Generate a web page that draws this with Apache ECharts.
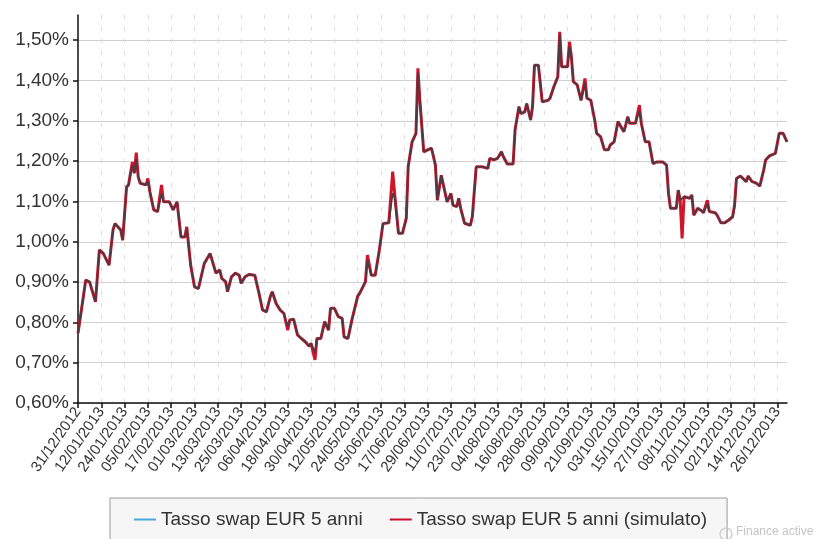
<!DOCTYPE html>
<html>
<head>
<meta charset="utf-8">
<script src="https://cdn.jsdelivr.net/npm/echarts@6/dist/echarts.min.js"></script>
<style>
html,body{margin:0;padding:0;background:#fff;}
#c{width:817px;height:539px;}
</style>
</head>
<body>
<div id="c"></div>
<script>
// day offsets from 31/12/2012
const days = [0,4,6,9,11,13,16,18,19,22,23,25,26,28,29,30,31,32,35,36,37,39,41,43,44,47,49,51,53,55,56,58,60,62,65,68,69,71,73,74,76,77,79,81,83,84,86,88,91,93,95,97,99,100,102,104,106,108,109,111,113,115,117,119,120,122,123,125,127,129,130,132,134,136,137,139,141,144,145,148,149,151,153,155,156,157,160,162,163,165,167,169,170,172,174,175,176,178,180,182,184,185,187,188,190,192,193,195,196,197,199,202,203,205,206,208,211,212,214,216,218,219,221,224,225,227,228,230,231,233,234,235,237,239,242,243,245,247,248,249,252,253,254,255,257,259,261,262,264,266,267,269,271,273,274,276,278,279,281,282,283,284,287,289,290,292,294,296,298,301,303,304,305,308,309,310,311,312,315,316,317,319,321,322,324,325,328,329,331,333,335,337,338,339,341,344,345,347,349,351,353,354,356,359,360,361,363,365];

// Tasso swap EUR 5 anni (simulato), %
const simulated = [0.773,0.905,0.900,0.851,0.980,0.971,0.942,1.029,1.045,1.029,1.004,1.136,1.141,1.198,1.170,1.221,1.161,1.145,1.141,1.157,1.124,1.079,1.075,1.141,1.099,1.099,1.079,1.099,1.012,1.012,1.037,0.942,0.888,0.884,0.946,0.971,0.967,0.922,0.930,0.909,0.901,0.876,0.913,0.922,0.917,0.897,0.913,0.919,0.917,0.876,0.831,0.826,0.864,0.876,0.847,0.831,0.822,0.781,0.806,0.808,0.769,0.760,0.752,0.741,0.748,0.707,0.760,0.760,0.802,0.781,0.835,0.835,0.814,0.810,0.764,0.760,0.806,0.865,0.872,0.901,0.967,0.917,0.917,0.975,0.979,1.045,1.047,1.174,1.120,1.021,1.021,1.058,1.187,1.248,1.269,1.430,1.351,1.223,1.228,1.232,1.190,1.103,1.165,1.161,1.099,1.120,1.091,1.087,1.108,1.083,1.046,1.041,1.062,1.186,1.190,1.186,1.182,1.207,1.203,1.207,1.223,1.211,1.193,1.193,1.277,1.335,1.318,1.322,1.343,1.302,1.335,1.438,1.438,1.347,1.351,1.356,1.385,1.409,1.521,1.434,1.434,1.496,1.459,1.397,1.389,1.351,1.405,1.356,1.351,1.302,1.269,1.261,1.228,1.228,1.240,1.248,1.298,1.294,1.273,1.290,1.310,1.294,1.294,1.339,1.294,1.248,1.248,1.194,1.198,1.198,1.190,1.120,1.083,1.083,1.128,1.103,1.008,1.112,1.108,1.116,1.066,1.083,1.077,1.072,1.103,1.075,1.072,1.066,1.047,1.047,1.054,1.062,1.091,1.157,1.163,1.149,1.163,1.149,1.146,1.138,1.178,1.203,1.213,1.219,1.221,1.269,1.269,1.248];

// Tasso swap EUR 5 anni, %
const actual = [0.773,0.905,0.900,0.851,0.980,0.971,0.942,1.029,1.045,1.029,1.004,1.136,1.141,1.190,1.170,1.205,1.161,1.145,1.141,1.150,1.124,1.079,1.075,1.120,1.099,1.099,1.079,1.099,1.012,1.012,1.030,0.942,0.888,0.884,0.946,0.971,0.967,0.922,0.930,0.909,0.901,0.876,0.913,0.922,0.917,0.897,0.913,0.919,0.917,0.876,0.831,0.826,0.864,0.876,0.847,0.831,0.822,0.790,0.806,0.808,0.769,0.760,0.752,0.741,0.748,0.725,0.760,0.760,0.802,0.781,0.835,0.835,0.814,0.810,0.764,0.760,0.806,0.865,0.872,0.901,0.955,0.917,0.917,0.975,0.979,1.045,1.047,1.120,1.110,1.021,1.021,1.058,1.187,1.248,1.269,1.420,1.351,1.223,1.228,1.232,1.190,1.103,1.165,1.161,1.099,1.120,1.091,1.087,1.108,1.083,1.046,1.041,1.062,1.186,1.190,1.186,1.182,1.207,1.203,1.207,1.223,1.211,1.193,1.193,1.277,1.335,1.318,1.322,1.343,1.302,1.335,1.438,1.438,1.347,1.351,1.356,1.385,1.409,1.515,1.434,1.434,1.485,1.459,1.397,1.389,1.351,1.395,1.356,1.351,1.302,1.269,1.261,1.228,1.228,1.240,1.248,1.298,1.294,1.273,1.290,1.310,1.294,1.294,1.325,1.294,1.248,1.248,1.194,1.198,1.198,1.190,1.120,1.083,1.083,1.128,1.103,1.100,1.112,1.108,1.116,1.066,1.083,1.077,1.072,1.095,1.075,1.072,1.066,1.047,1.047,1.054,1.062,1.085,1.157,1.163,1.149,1.163,1.149,1.146,1.138,1.178,1.203,1.213,1.219,1.221,1.269,1.269,1.248];

const xTickLabels = ['31/12/2012','12/01/2013','24/01/2013','05/02/2013','17/02/2013','01/03/2013','13/03/2013','25/03/2013','06/04/2013','18/04/2013','30/04/2013','12/05/2013','24/05/2013','05/06/2013','17/06/2013','29/06/2013','11/07/2013','23/07/2013','04/08/2013','16/08/2013','28/08/2013','09/09/2013','21/09/2013','03/10/2013','15/10/2013','27/10/2013','08/11/2013','20/11/2013','02/12/2013','14/12/2013','26/12/2013'];
const yTicks = [0.6,0.7,0.8,0.9,1.0,1.1,1.2,1.3,1.4,1.5];
const seriesNames = ['Tasso swap EUR 5 anni','Tasso swap EUR 5 anni (simulato)'];

const xTickValues = xTickLabels.map((_, i) => i * 12);
const pairs = arr => days.map((d, i) => [d, arr[i]]);

const chart = echarts.init(document.getElementById('c'), null, {renderer: 'canvas'});
const FONT = '"Liberation Sans", Arial, Helvetica, sans-serif';
chart.setOption({
  animation: false,
  backgroundColor: '#ffffff',
  textStyle: {fontFamily: FONT},
  grid: {left: 78, right: 30, top: 15, bottom: 136, containLabel: false},
  xAxis: {
    type: 'value', min: 0, max: 365, interval: 12,
    axisLine: {show: true, lineStyle: {color: '#111', width: 1.5}},
    axisTick: {show: true, length: 5, lineStyle: {color: '#111', width: 1.5}, customValues: xTickValues},
    axisLabel: {
      customValues: xTickValues,
      rotate: 55, fontSize: 15, color: '#333', margin: 6, fontFamily: FONT,
      formatter: v => xTickLabels[Math.round(v / 12)] || ''
    },
    splitLine: {show: true, lineStyle: {color: '#dcdcdc', type: [4, 8], width: 1}}
  },
  yAxis: {
    type: 'value', min: 0.6, max: 1.5625, interval: 0.1,
    axisLine: {show: true, lineStyle: {color: '#111', width: 1.5}},
    axisTick: {show: true, length: 5, lineStyle: {color: '#111', width: 1.5}, customValues: yTicks},
    axisLabel: {
      customValues: yTicks,
      fontSize: 19, color: '#333', margin: 9, fontFamily: FONT,
      formatter: v => v.toFixed(2).replace('.', ',') + '%'
    },
    splitLine: {show: true, lineStyle: {color: '#d0d0d0', width: 1}}
  },
  legend: {
    left: 110, top: 498,
    orient: 'horizontal',
    backgroundColor: '#f6f6f6', borderColor: '#9a9a9a', borderWidth: 1, borderRadius: 0,
    padding: [12, 20, 30, 24],
    itemWidth: 22, itemHeight: 2, itemGap: 27,
    textStyle: {fontSize: 19, color: '#333', fontFamily: FONT},
    data: [
      {name: seriesNames[0], icon: 'rect', itemStyle: {color: '#4fa8dc'}},
      {name: seriesNames[1], icon: 'rect', itemStyle: {color: '#c8102e'}}
    ],
    itemStyle: {borderWidth: 0}
  },
  series: [
    {
      name: seriesNames[1], type: 'line', data: pairs(simulated),
      symbol: 'none', z: 2,
      itemStyle: {color: '#c8102e'},
      lineStyle: {color: '#d0142a', width: 3}
    },
    {
      name: seriesNames[0], type: 'line', data: pairs(actual),
      symbol: 'none', z: 3,
      itemStyle: {color: '#4fa8dc'},
      lineStyle: {color: '#4a3a44', width: 1.7}
    }
  ],
  graphic: [
    {type: 'circle', shape: {cx: 726, cy: 534, r: 6}, style: {fill: 'none', stroke: '#c8c8c8', lineWidth: 1.2}, z: 10},
    {type: 'text', left: 736, top: 526, style: {text: 'Finance active', fill: '#c4c4c4', font: '12px ' + FONT}, z: 10}
  ]
});
</script>
</body>
</html>
